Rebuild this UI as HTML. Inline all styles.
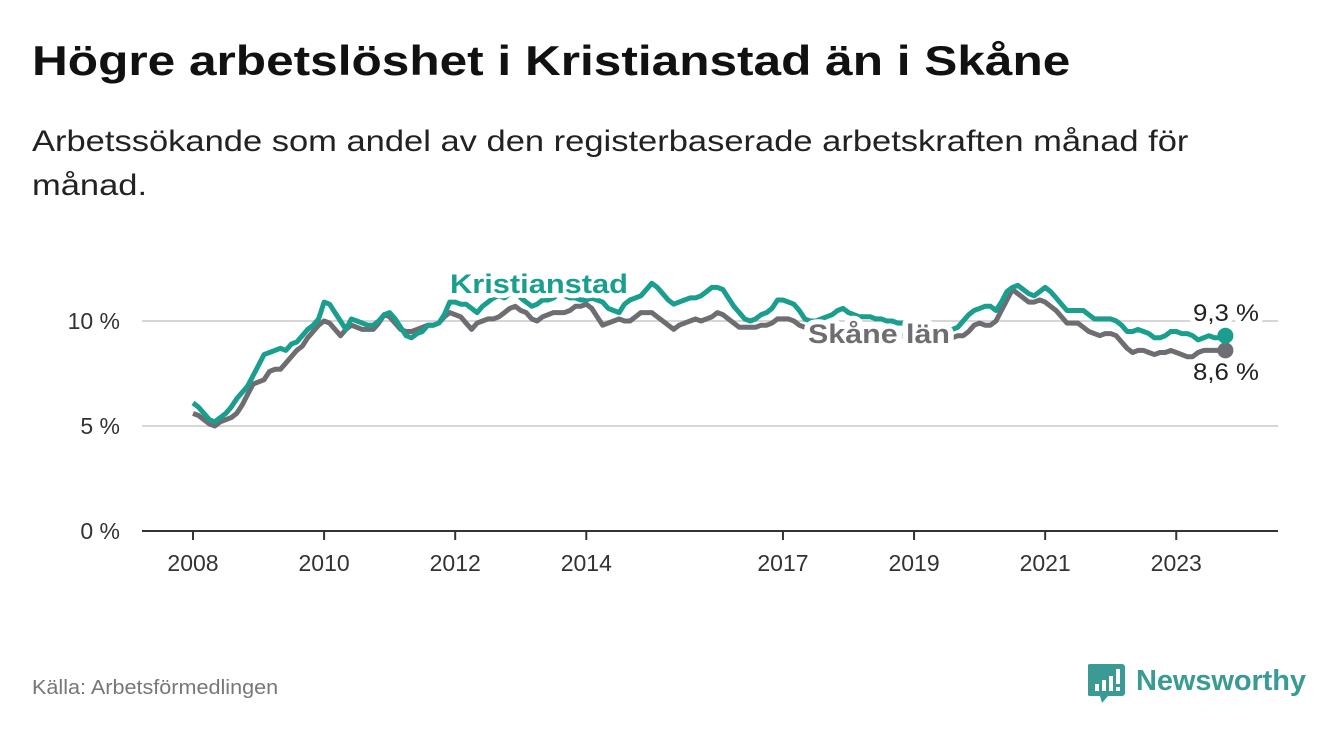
<!DOCTYPE html>
<html><head><meta charset="utf-8">
<style>
html,body{margin:0;padding:0;background:#fff;}
body{width:1340px;height:734px;position:relative;overflow:hidden;font-family:"Liberation Sans",sans-serif;}
#title{position:absolute;left:32px;top:37px;font-size:42px;font-weight:bold;color:#111;margin:0;white-space:nowrap;transform:scaleX(1.18);transform-origin:left top;}
#subtitle{position:absolute;left:32px;top:120px;font-size:30px;line-height:44px;color:#222;margin:0;white-space:nowrap;transform:scaleX(1.15);transform-origin:left top;}
#source{position:absolute;left:32px;top:677px;font-size:20px;color:#777;transform:scaleX(1.08);transform-origin:left top;}
#logo{position:absolute;left:1088px;top:660px;}
svg text{font-family:"Liberation Sans",sans-serif;}
</style></head>
<body>
<h1 id="title">Högre arbetslöshet i Kristianstad än i Skåne</h1>
<p id="subtitle">Arbetssökande som andel av den registerbaserade arbetskraften månad för<br>månad.</p>
<svg id="chart" width="1340" height="734" style="position:absolute;left:0;top:0"></svg>
<div id="source">Källa: Arbetsförmedlingen</div>
<div id="logo">
<svg width="230" height="50">
<path d="M2 4 h32 a3 3 0 0 1 3 3 v26 a3 3 0 0 1 -3 3 h-14 l-6 7 l-2 -7 h-10 a3 3 0 0 1 -3 -3 v-26 a3 3 0 0 1 3 -3z" fill="#3a9a94"/>
<rect x="7" y="24" width="4" height="7" fill="#fff"/><rect x="14" y="20" width="4" height="11" fill="#fff"/><rect x="21" y="16" width="4" height="15" fill="#fff"/><rect x="28" y="9" width="4" height="15" fill="#fff"/><rect x="28" y="27" width="4" height="4" fill="#fff"/>
<text x="48" y="30" font-size="29" font-weight="bold" fill="#3a9a94" textLength="170">Newsworthy</text>
</svg></div>
<script>
const years = [2008,2009,2010,2011,2012,2013,2014,2015,2016,2017,2018,2019,2020,2021,2022,2023];
const tickYears = [2008,2010,2012,2014,2017,2019,2021,2023];
const yTicks = [0,5,10];
const kristianstad = [
6.1,5.9,5.6,5.3,5.2,5.4,5.6,5.9,6.3,6.6,6.9,7.4,
7.9,8.4,8.5,8.6,8.7,8.6,8.9,9.0,9.3,9.6,9.8,10.1,
10.9,10.8,10.4,10.0,9.6,10.1,10.0,9.9,9.8,9.8,10.0,10.3,
10.4,10.1,9.7,9.3,9.2,9.4,9.5,9.8,9.8,9.9,10.3,10.9,
10.9,10.8,10.8,10.6,10.4,10.7,10.9,11.1,11.2,11.1,11.3,11.4,
11.1,10.9,10.7,10.8,11.0,11.0,11.1,11.3,11.2,11.1,11.1,11.0,
11.0,11.1,11.0,10.9,10.6,10.5,10.4,10.8,11.0,11.1,11.2,11.5,
11.8,11.6,11.3,11.0,10.8,10.9,11.0,11.1,11.1,11.2,11.4,11.6,
11.6,11.5,11.1,10.7,10.4,10.1,10.0,10.1,10.3,10.4,10.6,11.0,
11.0,10.9,10.8,10.5,10.1,10.0,10.0,10.1,10.2,10.3,10.5,10.6,
10.4,10.3,10.2,10.2,10.2,10.1,10.1,10.0,10.0,9.9,9.9,9.8,
9.8,9.7,9.7,9.6,9.6,9.6,9.5,9.6,9.7,10.0,10.3,10.5,
10.6,10.7,10.7,10.5,10.9,11.4,11.6,11.7,11.5,11.3,11.2,11.4,
11.6,11.4,11.1,10.8,10.5,10.5,10.5,10.5,10.3,10.1,10.1,10.1,
10.1,10.0,9.8,9.5,9.5,9.6,9.5,9.4,9.2,9.2,9.3,9.5,
9.5,9.4,9.4,9.3,9.1,9.2,9.3,9.2,9.2,9.3];
const skane = [
5.6,5.5,5.3,5.1,5.0,5.2,5.3,5.4,5.6,6.0,6.5,7.0,
7.1,7.2,7.6,7.7,7.7,8.0,8.3,8.6,8.8,9.2,9.5,9.8,
10.0,9.9,9.6,9.3,9.6,9.8,9.7,9.6,9.6,9.6,9.9,10.3,
10.2,9.9,9.6,9.5,9.5,9.6,9.7,9.8,9.8,9.9,10.2,10.4,
10.3,10.2,9.9,9.6,9.9,10.0,10.1,10.1,10.2,10.4,10.6,10.7,
10.5,10.4,10.1,10.0,10.2,10.3,10.4,10.4,10.4,10.5,10.7,10.7,
10.8,10.6,10.2,9.8,9.9,10.0,10.1,10.0,10.0,10.2,10.4,10.4,
10.4,10.2,10.0,9.8,9.6,9.8,9.9,10.0,10.1,10.0,10.1,10.2,
10.4,10.3,10.1,9.9,9.7,9.7,9.7,9.7,9.8,9.8,9.9,10.1,
10.1,10.1,10.0,9.8,9.7,9.6,9.5,9.5,9.5,9.5,9.6,9.6,
9.5,9.5,9.4,9.4,9.4,9.4,9.3,9.3,9.3,9.3,9.3,9.3,
9.2,9.2,9.2,9.2,9.1,9.1,9.1,9.2,9.3,9.3,9.5,9.8,
9.9,9.8,9.8,10.0,10.5,11.0,11.5,11.3,11.1,10.9,10.9,11.0,
10.9,10.7,10.5,10.2,9.9,9.9,9.9,9.7,9.5,9.4,9.3,9.4,
9.4,9.3,9.0,8.7,8.5,8.6,8.6,8.5,8.4,8.5,8.5,8.6,
8.5,8.4,8.3,8.3,8.5,8.6,8.6,8.6,8.6,8.6];

const NS="http://www.w3.org/2000/svg";
const svg=document.getElementById('chart');
const X0=193, PX_YEAR=65.55;
function xMonth(i){return X0+i*PX_YEAR/12;}
function xYear(y){return X0+(y-2008)*PX_YEAR;}
function yVal(v){return 531-v*21;}
function mk(tag,attrs){const e=document.createElementNS(NS,tag);for(const k in attrs)e.setAttribute(k,attrs[k]);svg.appendChild(e);return e;}

yTicks.forEach(v=>{
  if(v>0){const g=mk('line',{x1:142,x2:1278,y1:yVal(v),y2:yVal(v),stroke:'#d6d6d6','stroke-width':2});
  
  }
  const t=mk('text',{x:120,y:yVal(v)+8,'text-anchor':'end','font-size':23,fill:'#333'});
  t.textContent=v+' %';
  
  
});
const ax=mk('line',{x1:142,x2:1278,y1:531,y2:531,stroke:'#333','stroke-width':2});


tickYears.forEach(y=>{
  const tk=mk('line',{x1:xYear(y),x2:xYear(y),y1:531,y2:540,stroke:'#333','stroke-width':2});
  
  
  const t=mk('text',{x:xYear(y),y:571,'text-anchor':'middle','font-size':23,fill:'#333'});
  t.textContent=y;
  
  
});
function path(arr){return arr.map((v,i)=>(i?'L':'M')+xMonth(i).toFixed(1)+' '+yVal(v).toFixed(1)).join(' ');}
const ls=mk('path',{d:path(skane),fill:'none',stroke:'#6e6d72','stroke-width':5,'stroke-linejoin':'round'});


const lk=mk('path',{d:path(kristianstad),fill:'none',stroke:'#1a9e8e','stroke-width':5,'stroke-linejoin':'round'});


const nK=kristianstad.length-1,nS=skane.length-1;
const dS=mk('circle',{cx:xMonth(nS),cy:yVal(skane[nS]),r:8,fill:'#6e6d72'});


const dK=mk('circle',{cx:xMonth(nK),cy:yVal(kristianstad[nK]),r:8,fill:'#1a9e8e'});


function lab(txt,x,y,fill,bold,size,name,len){
  const a={x:x,y:y,fill:fill,'font-size':size,'font-weight':bold?'bold':'normal',stroke:'#fff','stroke-width':10,'paint-order':'stroke','stroke-linejoin':'round'};
  if(len){a.textLength=len;a.lengthAdjust='spacingAndGlyphs';}
  const t=mk('text',a);
  t.textContent=txt;
  
  
}
lab('Kristianstad',450,293,'#1a9e8e',true,27,'kristianstad-label',178);
lab('Skåne län',808,343,'#6e6d72',true,27,'skane-label',142);
lab(String(kristianstad[nK]).replace('.',',')+' %',1193,321,'#222',false,24,'kristianstad-value-label',66);
lab(String(skane[nS]).replace('.',',')+' %',1193,380,'#222',false,24,'skane-value-label',66);
</script>
</body></html>
